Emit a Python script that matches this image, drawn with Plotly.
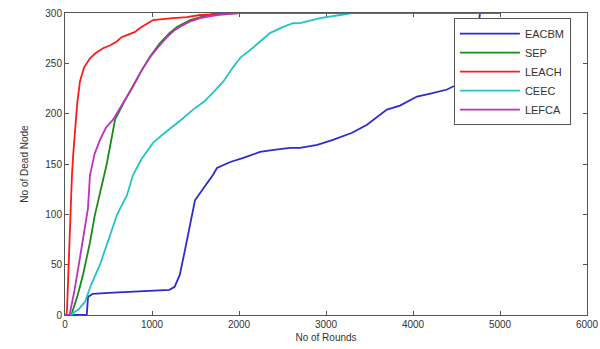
import plotly.graph_objects as go

# ---- data ----
eacbm_x = [0, 250, 265, 320, 500, 800, 1000, 1200, 1260, 1320, 1380, 1437, 1494, 1600, 1700, 1747, 1900, 2050, 2241, 2400, 2586, 2701, 2900, 3080, 3300, 3471, 3700, 3850, 4046, 4200, 4391, 4460, 4600, 4700, 4770, 5000]
eacbm_y = [0, 0, 18, 21, 22, 23, 24, 25, 28, 40, 65, 89, 114, 127, 139, 146, 152, 156, 162, 164, 166, 166, 169, 174, 181, 189, 204, 208, 217, 220, 224, 227, 230, 245, 300, 300]

sep_x = [0, 70, 80, 140, 207, 250, 287, 340, 402, 480, 575, 700, 862, 980, 1092, 1200, 1287, 1437, 1600, 1750, 5000]
sep_y = [0, 0, 2, 18, 40, 58, 72, 98, 122, 150, 194, 215, 240, 257, 270, 280, 286, 293, 297, 300, 300]

leach_x = [0, 15, 23, 40, 60, 80, 95, 115, 140, 172, 220, 287, 350, 437, 520, 598, 650, 712, 800, 862, 950, 1011, 1241, 1400, 1552, 1800, 2000, 5000]
leach_y = [0, 0, 5, 50, 100, 139, 160, 182, 210, 232, 246, 255, 260, 265, 268, 272, 276, 278, 281, 285, 290, 293, 295, 296, 298, 299, 300, 300]

ceec_x = [0, 85, 92, 160, 230, 300, 402, 460, 517, 600, 712, 782, 880, 1011, 1120, 1241, 1350, 1471, 1600, 1701, 1820, 1931, 2020, 2126, 2250, 2356, 2500, 2621, 2701, 2931, 3161, 3300, 5000]
ceec_y = [0, 0, 2, 6, 13, 30, 50, 65, 79, 100, 119, 139, 155, 171, 179, 187, 195, 204, 212, 221, 232, 246, 256, 263, 272, 280, 286, 290, 290, 295, 298, 300, 300]

lefca_x = [0, 50, 57, 110, 172, 220, 264, 287, 340, 402, 470, 552, 650, 782, 880, 977, 1080, 1172, 1260, 1356, 1450, 1552, 1750, 2000, 5000]
lefca_y = [0, 0, 2, 25, 57, 85, 106, 139, 160, 174, 186, 194, 208, 227, 243, 256, 267, 276, 283, 288, 292, 295, 298, 300, 300]

series = [
    ("EACBM", eacbm_x, eacbm_y, "#2b2bd0"),
    ("SEP", sep_x, sep_y, "#1a8a1a"),
    ("LEACH", leach_x, leach_y, "#ff1a1a"),
    ("CEEC", ceec_x, ceec_y, "#22c4c4"),
    ("LEFCA", lefca_x, lefca_y, "#c030c0"),
]

x_ticks = [0, 1000, 2000, 3000, 4000, 5000, 6000]
y_ticks = [0, 50, 100, 150, 200, 250, 300]

FONT = "Liberation Sans, Arial"

fig = go.Figure()
for name, xs, ys, col in series:
    fig.add_trace(go.Scatter(x=xs, y=ys, mode="lines", name=name,
                             line=dict(color=col, width=1.8)))

axis_common = dict(
    showgrid=False, zeroline=False, showline=True, linecolor="#555555",
    linewidth=1, mirror="ticks", ticks="inside", ticklen=4, automargin=False,
    layer="below traces",
    tickcolor="#555555", tickfont=dict(family=FONT, size=10, color="#333333"),
)

fig.update_layout(
    width=600, height=349,
    margin=dict(l=65, r=13, t=13, b=34),
    paper_bgcolor="white", plot_bgcolor="white",
    showlegend=True,
    legend=dict(x=0.745, y=0.983, xanchor="left", yanchor="top",
                bordercolor="#555555", borderwidth=1, bgcolor="white",
                font=dict(family=FONT, size=11, color="#333333"),
                tracegroupgap=0, itemwidth=60),
    xaxis=dict(range=[0, 6000], tickvals=x_ticks,
               title=dict(text="No of Rounds", standoff=4,
                          font=dict(family=FONT, size=10, color="#333333")),
               **axis_common),
    yaxis=dict(range=[0, 300], tickvals=y_ticks,
               title=dict(text="No of Dead Node", standoff=14,
                          font=dict(family=FONT, size=10, color="#333333")),
               **axis_common),
)

fig.write_html("out.html", config={"displayModeBar": False},
               post_script="document.body.style.margin='0px';")
